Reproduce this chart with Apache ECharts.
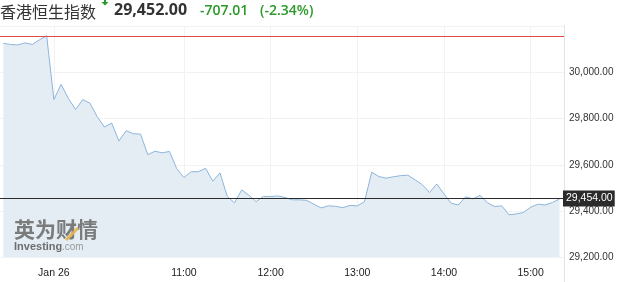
<!DOCTYPE html>
<html><head><meta charset="utf-8">
<script src="https://cdn.jsdelivr.net/npm/echarts@6/dist/echarts.min.js"></script>
<style>html,body{margin:0;padding:0;background:#fff}#c{width:631px;height:282px}</style>
</head><body><div id="c"></div>
<script>
const titleText = '香港恒生指数';
const lastPriceText = '29,452.00';
const changeText = '-707.01';
const changePctText = '(-2.34%)';
const prevClose = 30159.01;
const tagValue = 29454;
const startMinute = 535;   // 8:55
const stepMinutes = 5;
const values = [
  30127, 30122, 30120, 30129, 30122, 30142, 30160, 29883, 29949, 29888,
  29840, 29883, 29867, 29809, 29764, 29781, 29703, 29748, 29735, 29733,
  29644, 29659, 29652, 29658, 29584, 29545, 29570, 29570, 29585, 29529,
  29565, 29463, 29435, 29491, 29468, 29440, 29463, 29462, 29465, 29458,
  29448, 29448, 29446, 29429, 29413, 29422, 29420, 29414, 29424, 29422,
  29440, 29568, 29549, 29542, 29548, 29553, 29555, 29535, 29514, 29480,
  29517, 29474, 29433, 29426, 29461, 29452, 29467, 29436, 29419, 29422,
  29383, 29387, 29393, 29416, 29429, 29426, 29436, 29452
];
const xTickMinutes = [570, 660, 720, 780, 840, 900];
const xTickLabels = ['Jan 26', '11:00', '12:00', '13:00', '14:00', '15:00'];

const seriesData = values.map((v, i) => [startMinute + i * stepMinutes, v]);
const green = '#2a9a2a';

const chart = echarts.init(document.getElementById('c'), null, {renderer: 'canvas'});
chart.setOption({
  animation: false,
  grid: {left: 0, right: 67, top: 26.5, bottom: 25, containLabel: false},
  xAxis: {
    type: 'value', min: 532.7, max: 923.1,
    axisLine: {show: false},
    axisTick: {show: false, customValues: xTickMinutes},
    axisLabel: {
      customValues: xTickMinutes,
      formatter: v => { const k = xTickMinutes.indexOf(Math.round(v)); return k >= 0 ? xTickLabels[k] : ''; },
      color: '#1a1a1a', fontSize: 10.5, fontFamily: 'Liberation Sans, Arial', margin: 11
    },
    splitLine: {show: true, lineStyle: {color: '#f1f2f4', width: 1}}
  },
  yAxis: {
    type: 'value', position: 'right', min: 29200, max: 30200, interval: 200,
    axisLine: {show: true, lineStyle: {color: '#dfe4ea'}},
    axisTick: {show: false},
    axisLabel: {
      formatter: v => v >= 30200 ? '' : v.toLocaleString('en-US', {minimumFractionDigits: 2, maximumFractionDigits: 2}),
      color: '#333', fontSize: 10, fontFamily: 'Liberation Sans, Arial', margin: 5
    },
    splitLine: {show: true, lineStyle: {color: '#f1f2f4', width: 1}}
  },
  series: [{
    type: 'line', data: seriesData, symbol: 'none', smooth: false,
    lineStyle: {color: '#8db5dc', width: 1},
    areaStyle: {color: '#e4edf4', opacity: 1},
    markLine: {
      silent: true, symbol: 'none',
      data: [
        {yAxis: prevClose, lineStyle: {color: '#e04a4a', width: 1, type: 'solid'}, label: {show: false}},
        {yAxis: tagValue, lineStyle: {color: '#2b2b2b', width: 1, type: 'solid'},
         label: {show: true, position: 'end', distance: -1,
                 formatter: () => tagValue.toLocaleString('en-US', {minimumFractionDigits: 2}),
                 color: '#fff', backgroundColor: '#2b2b2b', padding: [3, 2, 2, 3],
                 fontSize: 10.5, fontFamily: 'Liberation Sans, Arial'}}
      ]
    }
  }],
  graphic: [
    {type: 'line', shape: {x1: 564.5, y1: 25, x2: 564.5, y2: 282}, style: {stroke: '#dfe4ea', lineWidth: 1}, z: 1},
    {type: 'text', left: 0, top: 4, style: {text: titleText, font: '16px "Noto Sans CJK SC"', fill: '#333'}},
    {type: 'polygon', shape: {points: [[104, 0], [106, 0], [106, 2], [108.5, 2], [105, 5.5], [101.5, 2], [104, 2]]}, style: {fill: green}},
    {type: 'text', left: 114, top: 2, style: {text: lastPriceText, font: 'bold 16px "Open Sans"', fill: '#333'}},
    {type: 'text', left: 200, top: 4, style: {text: changeText, font: '600 14px "Open Sans"', fill: green}},
    {type: 'text', left: 260, top: 4, style: {text: changePctText, font: '600 14px "Open Sans"', fill: green}},
    {type: 'text', left: 14, top: 219, style: {text: '英为财情', font: 'bold 21px "Noto Sans CJK SC"', fill: '#6e6e6e', opacity: 0.9}, z: 10},
    {type: 'line', shape: {x1: 66, y1: 240, x2: 78, y2: 228}, style: {stroke: '#e5b449', lineWidth: 3, opacity: 0.9}, z: 11},
    {type: 'text', left: 14, top: 241, style: {text: 'Investing', font: 'bold 11px "Liberation Sans", Arial', fill: '#6e6e6e'}, z: 10},
    {type: 'text', left: 62, top: 242, style: {text: '.com', font: '10px "Liberation Sans", Arial', fill: '#9a9a9a'}, z: 10}
  ]
});
</script>
</body></html>
